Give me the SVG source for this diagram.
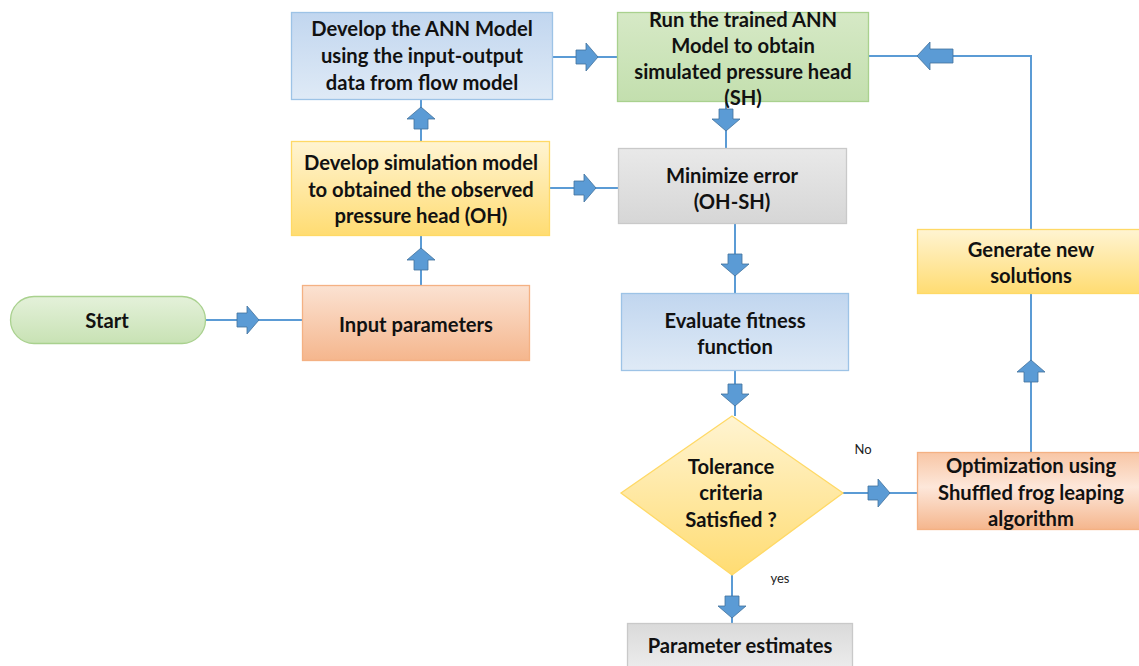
<svg xmlns="http://www.w3.org/2000/svg" width="1139" height="666" viewBox="0 0 1139 666">
<style>
.t{font-family:Lato,"Liberation Sans",sans-serif;font-weight:700;font-size:20.2px;fill:#111;text-anchor:middle;dominant-baseline:central}
.s{font-family:Lato,"Liberation Sans",sans-serif;font-size:13px;fill:#222;text-anchor:middle;dominant-baseline:central}
.ln{fill:none;stroke:#5b9bd5;stroke-width:2}
.ar{fill:#5b9bd5;stroke:#41719c;stroke-width:0.8}
.blue{stroke:#9dc3e6;stroke-width:1.3}
.green{stroke:#a9d18e;stroke-width:1.3}
.yel{stroke:#ffd966;stroke-width:1.3}
.org{stroke:#f4b183;stroke-width:1.3}
.gray{stroke:#c9c9c9;stroke-width:1.3}
</style>
<defs>
<linearGradient id="gBlue" x1="0" y1="0" x2="0" y2="1"><stop offset="0" stop-color="#c1d6ef"/><stop offset="1" stop-color="#dfeaf6"/></linearGradient>
<linearGradient id="gGreen" x1="0" y1="0" x2="0" y2="1"><stop offset="0" stop-color="#d6e9c6"/><stop offset="1" stop-color="#c3dfae"/></linearGradient>
<linearGradient id="gYel" x1="0" y1="0" x2="0" y2="1"><stop offset="0" stop-color="#fff4d2"/><stop offset="1" stop-color="#ffdc72"/></linearGradient>
<linearGradient id="gOrg" x1="0" y1="0" x2="0" y2="1"><stop offset="0" stop-color="#fbe2d2"/><stop offset="1" stop-color="#f5b68d"/></linearGradient>
<linearGradient id="gOrg2" x1="0" y1="0" x2="0" y2="1"><stop offset="0" stop-color="#f8c6a5"/><stop offset="0.45" stop-color="#fde7da"/><stop offset="1" stop-color="#f5b68d"/></linearGradient>
<linearGradient id="gGray" x1="0" y1="0" x2="0" y2="1"><stop offset="0" stop-color="#e9e9e9"/><stop offset="1" stop-color="#d6d6d6"/></linearGradient>
<linearGradient id="gGray2" x1="0" y1="0" x2="0" y2="1"><stop offset="0" stop-color="#dadada"/><stop offset="1" stop-color="#f2f2f2"/></linearGradient>
<linearGradient id="gStart" x1="0" y1="0" x2="0" y2="1"><stop offset="0" stop-color="#e4f1da"/><stop offset="1" stop-color="#c8e2b4"/></linearGradient>
<path id="arr" d="M-22,-7 H-12 V-14 L0,0 L-12,14 V7 H-22 Z"/>
<path id="arrL" d="M-36,-7 H-13 V-14 L0,0 L-13,14 V7 H-36 Z"/>
</defs>

<g id="connectors">
<path class="ln" d="M206,320 H302"/>
<path class="ln" d="M421,285 V236"/>
<path class="ln" d="M421,141 V99"/>
<path class="ln" d="M552,57 H617"/>
<path class="ln" d="M550,188 H618"/>
<path class="ln" d="M726,102 V148"/>
<path class="ln" d="M735,224 V293"/>
<path class="ln" d="M735,371 V416"/>
<path class="ln" d="M843,493 H917"/>
<path class="ln" d="M732,575 V623"/>
<path class="ln" d="M1031,452 V293"/>
<path class="ln" d="M1031,229 V56 H869"/>
<use href="#arr" class="ar" transform="translate(259,320)"/>
<use href="#arr" class="ar" transform="translate(421,248) rotate(-90)"/>
<use href="#arr" class="ar" transform="translate(421,107) rotate(-90)"/>
<use href="#arr" class="ar" transform="translate(598,57)"/>
<use href="#arr" class="ar" transform="translate(596,188)"/>
<use href="#arr" class="ar" transform="translate(726,131) rotate(90)"/>
<use href="#arr" class="ar" transform="translate(735,276) rotate(90)"/>
<use href="#arr" class="ar" transform="translate(735,406) rotate(90)"/>
<use href="#arr" class="ar" transform="translate(890,493)"/>
<use href="#arr" class="ar" transform="translate(732,618) rotate(90)"/>
<use href="#arr" class="ar" transform="translate(1031,360) rotate(-90)"/>
<use href="#arrL" class="ar" transform="translate(917,56) rotate(180)"/>
<text class="s" x="863" y="449">No</text>
<text class="s" x="780" y="578">yes</text>
</g>

<g id="ann">
<rect class="blue" x="291.5" y="12.5" width="261" height="87" fill="url(#gBlue)"/>
<text class="t" x="422" y="28">Develop the ANN Model</text>
<text class="t" x="422" y="55">using the input-output</text>
<text class="t" x="422" y="82">data from flow model</text>
</g>

<g id="run">
<rect class="green" x="617.5" y="12.5" width="251" height="89" fill="url(#gGreen)"/>
<text class="t" x="743" y="19">Run the trained ANN</text>
<text class="t" x="743" y="45">Model to obtain</text>
<text class="t" x="743" y="71">simulated pressure head</text>
<text class="t" x="743" y="97">(SH)</text>
</g>

<g id="sim">
<rect class="yel" x="291.5" y="141.5" width="258" height="94" fill="url(#gYel)"/>
<text class="t" x="421" y="162">Develop simulation model</text>
<text class="t" x="421" y="189">to obtained the observed</text>
<text class="t" x="421" y="215">pressure head (OH)</text>
</g>

<g id="minimize">
<rect class="gray" x="618.5" y="148.5" width="228" height="75" fill="url(#gGray)"/>
<text class="t" x="732" y="175">Minimize error</text>
<text class="t" x="732" y="201">(OH-SH)</text>
</g>

<g id="start">
<rect class="green" x="10.5" y="296.5" width="195" height="47" rx="23.5" fill="url(#gStart)"/>
<text class="t" x="107" y="320">Start</text>
</g>

<g id="input">
<rect class="org" x="302.5" y="285.5" width="227" height="75" fill="url(#gOrg)"/>
<text class="t" x="416" y="324">Input parameters</text>
</g>

<g id="evaluate">
<rect class="blue" x="621.5" y="293.5" width="227" height="77" fill="url(#gBlue)"/>
<text class="t" x="735" y="320">Evaluate fitness</text>
<text class="t" x="735" y="346">function</text>
</g>

<g id="tolerance">
<polygon class="yel" points="732,416 843,493 732,575 621,493" fill="url(#gYel)"/>
<text class="t" x="731" y="466">Tolerance</text>
<text class="t" x="731" y="492">criteria</text>
<text class="t" x="731" y="519">Satisfied ?</text>
</g>

<g id="optimization">
<rect class="org" x="917.5" y="452.5" width="230" height="77" fill="url(#gOrg2)"/>
<text class="t" x="1031" y="465">Optimization using</text>
<text class="t" x="1031" y="492">Shuffled frog leaping</text>
<text class="t" x="1031" y="518">algorithm</text>
</g>

<g id="generate">
<rect class="yel" x="917.5" y="229.5" width="230" height="64" fill="url(#gYel)"/>
<text class="t" x="1031" y="249">Generate new</text>
<text class="t" x="1031" y="275">solutions</text>
</g>

<g id="params">
<rect class="gray" x="627.5" y="623.5" width="225" height="60" fill="url(#gGray2)"/>
<text class="t" x="740" y="645">Parameter estimates</text>
</g>
</svg>
